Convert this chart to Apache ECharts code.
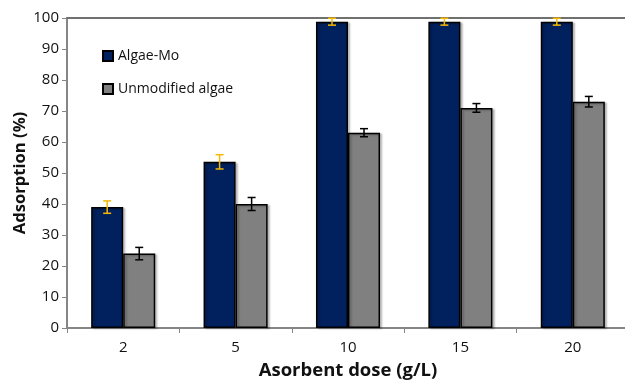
<!DOCTYPE html>
<html>
<head>
<meta charset="utf-8">
<script src="https://cdn.jsdelivr.net/npm/echarts@6/dist/echarts.min.js"></script>
<style>
  html, body { margin: 0; padding: 0; background: #fff; }
  #chart { width: 625px; height: 380px; }
</style>
</head>
<body>
<div id="chart"></div>
<script>
// Adsorption vs. adsorbent dose for the two materials
const doses = ['2', '5', '10', '15', '20'];
const algaeMo = [39, 53.6, 98.8, 98.8, 98.8];
const algaeMoErr = [2, 2.3, 1.1, 1.1, 1.1];
const unmodified = [24, 40, 63, 71, 73];
const unmodifiedErr = [2, 2.1, 1.3, 1.4, 1.7];
const yTicks = [0, 10, 20, 30, 40, 50, 60, 70, 80, 90, 100];

const FONT = '"Open Sans", sans-serif';
const CAT_GAP = 0.43;

function errorSeries(name, values, errs, color, side) {
  return {
    type: 'custom',
    name: name + ' error',
    z: 5,
    data: values.map((v, i) => [i, v - errs[i], v + errs[i]]),
    renderItem: function (params, api) {
      const idx = api.value(0);
      const lo = api.coord([idx, api.value(1)]);
      const hi = api.coord([idx, api.value(2)]);
      const catW = api.size([1, 0])[0];
      const barW = catW * (1 - CAT_GAP) / 2;
      const x = lo[0] + side * barW / 2;
      const cap = 4;
      const style = { stroke: color, lineWidth: 1.5 };
      return {
        type: 'group',
        children: [
          { type: 'line', shape: { x1: x, y1: hi[1], x2: x, y2: lo[1] }, style: style },
          { type: 'line', shape: { x1: x - cap, y1: hi[1], x2: x + cap, y2: hi[1] }, style: style },
          { type: 'line', shape: { x1: x - cap, y1: lo[1], x2: x + cap, y2: lo[1] }, style: style }
        ]
      };
    }
  };
}

const chart = echarts.init(document.getElementById('chart'), null, { renderer: 'canvas' });
chart.setOption({
  animation: false,
  backgroundColor: '#fff',
  grid: { left: 67, right: -4, top: 18, bottom: 52, containLabel: false, outerBoundsMode: 'none' },
  legend: {
    left: 97,
    top: 44,
    orient: 'vertical',
    itemGap: 19,
    itemWidth: 10,
    itemHeight: 10,
    icon: 'rect',
    data: ['Algae-Mo', 'Unmodified algae'],
    textStyle: { fontFamily: FONT, fontSize: 14, color: '#111' }
  },
  xAxis: [{
    type: 'category',
    data: doses,
    axisLine: { lineStyle: { color: '#868686', width: 2 } },
    axisTick: { show: true, length: 5, lineStyle: { color: '#868686', width: 1 } },
    axisLabel: { fontFamily: FONT, fontSize: 15, color: '#111', margin: 12 },
    name: 'Asorbent dose (g/L)',
    nameLocation: 'middle',
    nameGap: 33,
    nameMoveOverlap: false,
    nameTextStyle: { fontFamily: FONT, fontSize: 18.5, fontWeight: 'bold', color: '#111' }
  }, {
    type: 'category',
    position: 'top',
    data: doses,
    axisLine: { show: true, lineStyle: { color: '#707070', width: 2 } },
    axisTick: { show: false },
    axisLabel: { show: false }
  }],
  yAxis: {
    type: 'value',
    min: yTicks[0],
    max: yTicks[yTicks.length - 1],
    interval: 10,
    axisLine: { show: true, lineStyle: { color: '#868686', width: 2 } },
    axisTick: { show: true, length: 5, lineStyle: { color: '#868686', width: 1 } },
    splitLine: { show: false },
    axisLabel: { fontFamily: FONT, fontSize: 15, color: '#111', margin: 8 },
    name: 'Adsorption (%)',
    nameLocation: 'middle',
    nameGap: 38,
    nameMoveOverlap: false,
    nameRotate: 90,
    nameTextStyle: { fontFamily: FONT, fontSize: 16.6, fontWeight: 'bold', color: '#111' }
  },
  series: [
    {
      name: 'Algae-Mo',
      type: 'bar',
      data: algaeMo,
      barGap: '0%',
      barCategoryGap: (CAT_GAP * 100) + '%',
      itemStyle: {
        color: '#00215E', borderColor: '#000', borderWidth: 1.5,
        shadowColor: 'rgba(0,0,0,0.25)', shadowOffsetX: 2, shadowOffsetY: 1, shadowBlur: 2
      }
    },
    {
      name: 'Unmodified algae',
      type: 'bar',
      data: unmodified,
      itemStyle: {
        color: '#808080', borderColor: '#000', borderWidth: 1.5,
        shadowColor: 'rgba(0,0,0,0.25)', shadowOffsetX: 2, shadowOffsetY: 1, shadowBlur: 2
      }
    },
    errorSeries('Algae-Mo', algaeMo, algaeMoErr, '#F5B800', -1),
    errorSeries('Unmodified algae', unmodified, unmodifiedErr, '#000', 1)
  ]
});
</script>
</body>
</html>
